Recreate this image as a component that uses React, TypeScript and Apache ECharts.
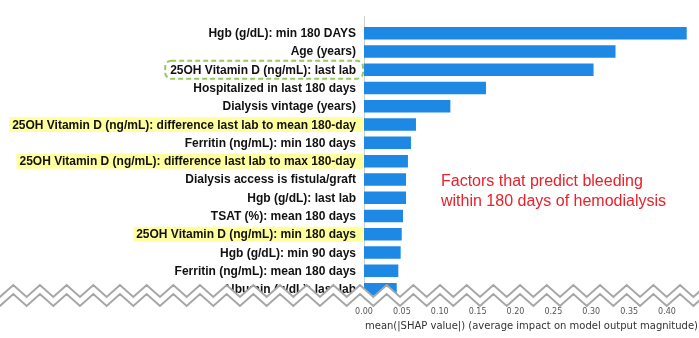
import React, { useEffect, useRef } from 'react';
import * as echarts from 'echarts';

const features: string[] = [
  'Hgb (g/dL): min 180 DAYS',
  'Age (years)',
  '25OH Vitamin D (ng/mL): last lab',
  'Hospitalized in last 180 days',
  'Dialysis vintage (years)',
  '25OH Vitamin D (ng/mL): difference last lab to mean 180-day',
  'Ferritin (ng/mL): min 180 days',
  '25OH Vitamin D (ng/mL): difference last lab to max 180-day',
  'Dialysis access is fistula/graft',
  'Hgb (g/dL): last lab',
  'TSAT (%): mean 180 days',
  '25OH Vitamin D (ng/mL): min 180 days',
  'Hgb (g/dL): min 90 days',
  'Ferritin (ng/mL): mean 180 days',
  'Albumin (g/dL): last lab',
];

const meanAbsShap: number[] = [
  0.426, 0.332, 0.303, 0.161, 0.114, 0.0686, 0.062, 0.058, 0.0555, 0.0555,
  0.0515, 0.0498, 0.0484, 0.0453, 0.0432,
];

const yellowFeatures: string[] = [
  '25OH Vitamin D (ng/mL): difference last lab to mean 180-day',
  '25OH Vitamin D (ng/mL): difference last lab to max 180-day',
  '25OH Vitamin D (ng/mL): min 180 days',
];
const greenFeatures: string[] = ['25OH Vitamin D (ng/mL): last lab'];

const xAxisTitle = 'mean(|SHAP value|) (average impact on model output magnitude)';
const noteLines: string[] = ['Factors that predict bleeding', 'within 180 days of hemodialysis'];

const X_MIN = 0;
const X_MAX = 0.4422;
const X_STEP = 0.05;

const GRID_LEFT = 364;
const GRID_TOP = 24;
const GRID_W = 335;
const GRID_H = 274.3;

function zigzag(x0: number, x1: number, period: number, phase: number, yTop: number, yBot: number): number[][] {
  const pts: number[][] = [];
  const half = period / 2;
  let x = phase - Math.ceil((phase - x0) / period) * period;
  let top = true;
  while (x <= x1 + period) {
    pts.push([x, top ? yTop : yBot]);
    x += half;
    top = !top;
  }
  return pts;
}

export default function App() {
  const ref = useRef<HTMLDivElement>(null);
  useEffect(() => {
    if (!ref.current) return;
    const chart = echarts.init(ref.current, undefined, { renderer: 'svg' });

    const upper = zigzag(-30, 730, 26.67, 13.3, 285, 297);
    const lower = zigzag(-30, 730, 26.67, 13.3, 294, 306);
    const polyPts = upper.concat(lower.slice().reverse());

    const labelFont = {
      fontFamily: "'Liberation Sans', Arial, sans-serif",
      fontWeight: 'bold' as const,
      fontSize: 12,
      color: '#111',
    };

    chart.setOption({
      animation: false,
      grid: {
        left: GRID_LEFT,
        top: GRID_TOP,
        width: GRID_W,
        height: GRID_H,
        containLabel: false,
        outerBoundsMode: 'none',
      },
      xAxis: {
        type: 'value',
        min: X_MIN,
        max: X_MAX,
        interval: X_STEP,
        splitLine: { show: false },
        axisLine: { show: false },
        axisTick: { show: false },
        axisLabel: {
          margin: 9.5,
          fontSize: 8,
          fontFamily: "'DejaVu Sans', sans-serif",
          color: '#555',
          showMaxLabel: false,
          formatter: (v: number) => v.toFixed(2),
        },
        name: xAxisTitle,
        nameLocation: 'middle',
        nameGap: 20,
        nameTextStyle: { fontSize: 10, fontFamily: "'DejaVu Sans', sans-serif", color: '#333' },
      },
      yAxis: {
        type: 'category',
        data: features,
        inverse: true,
        axisLine: { show: false },
        axisTick: { show: false },
        axisLabel: {
          margin: 1,
          formatter: (v: string) => {
            if (yellowFeatures.includes(v)) return `{y|${v}}`;
            if (greenFeatures.includes(v)) return `{g|${v}}`;
            return `{n|${v}}`;
          },
          rich: {
            n: { ...labelFont, lineHeight: 14, padding: [0, 7, 0, 0] },
            y: { ...labelFont, lineHeight: 14, padding: [1.5, 7, 1.5, 3], backgroundColor: '#ffff9e' },
            g: {
              ...labelFont,
              lineHeight: 14,
              padding: [3, 7, 3, 5],
              borderColor: '#97c95c',
              borderWidth: 2,
              borderType: [5, 3],
              borderRadius: 6,
            },
          },
        },
      },
      series: [
        {
          type: 'bar',
          data: meanAbsShap,
          barWidth: 12.5,
          itemStyle: { color: '#1E88E5' },
          z: 3,
        },
      ],
      graphic: [
        {
          type: 'line',
          shape: { x1: GRID_LEFT + 0.5, y1: 16, x2: GRID_LEFT + 0.5, y2: 300 },
          style: { stroke: '#cfcfcf', lineWidth: 1 },
          z: 1,
        },
        {
          type: 'text',
          left: 441,
          top: 171,
          style: {
            text: noteLines.join('\n'),
            fill: '#e8212b',
            font: "16px 'Liberation Sans', Arial, sans-serif",
            lineHeight: 19.5,
          },
          z: 10,
        },
        {
          type: 'polygon',
          shape: { points: polyPts },
          style: { fill: '#ffffff' },
          z: 50,
        },
        {
          type: 'polyline',
          shape: { points: upper },
          style: { stroke: '#a6a6a6', lineWidth: 2, fill: 'none' },
          z: 51,
        },
        {
          type: 'polyline',
          shape: { points: lower },
          style: { stroke: '#a6a6a6', lineWidth: 2, fill: 'none' },
          z: 51,
        },
      ],
    });
    return () => chart.dispose();
  }, []);
  return <div ref={ref} style={{ position: 'fixed', left: 0, top: 0, width: 699, height: 338 }} />;
}
